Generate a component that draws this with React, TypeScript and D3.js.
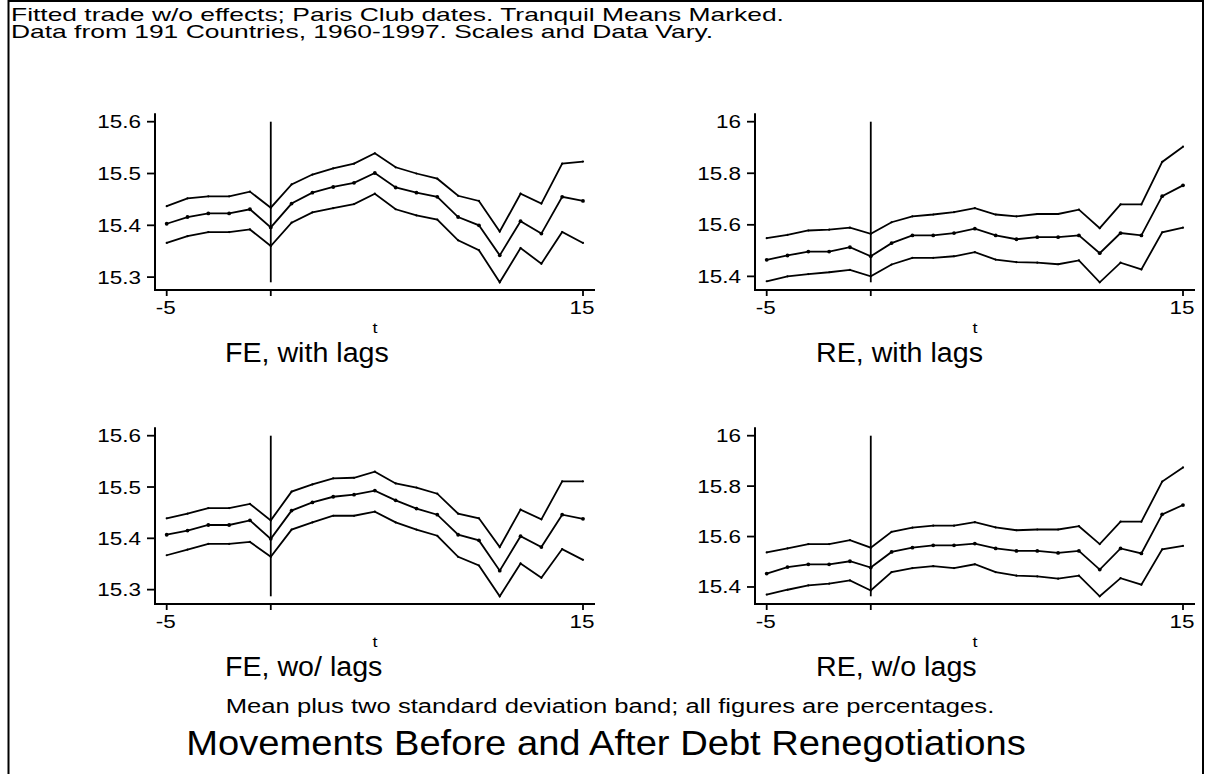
import React from "react";
import * as d3 from "d3";

// ---------- data ----------
const tValues = [-5, -4, -3, -2, -1, 0, 1, 2, 3, 4, 5, 6, 7, 8, 9, 10, 11, 12, 13, 14, 15];
const xTickValues = [-5, 0, 15];
const xTickLabels = ["-5", "", "15"];

const feLagsUpper = [15.437, 15.452, 15.456, 15.456, 15.465, 15.434, 15.479, 15.498, 15.510, 15.519, 15.539, 15.512, 15.500, 15.490, 15.457, 15.447, 15.388, 15.461, 15.442, 15.519, 15.523];
const feLagsMean = [15.403, 15.416, 15.423, 15.423, 15.431, 15.396, 15.442, 15.463, 15.474, 15.482, 15.501, 15.473, 15.463, 15.455, 15.416, 15.400, 15.342, 15.408, 15.384, 15.455, 15.447];
const feLagsLower = [15.366, 15.379, 15.387, 15.387, 15.392, 15.360, 15.405, 15.425, 15.433, 15.441, 15.461, 15.431, 15.419, 15.411, 15.371, 15.352, 15.290, 15.356, 15.326, 15.387, 15.366];

const reLagsUpper = [15.548, 15.561, 15.578, 15.581, 15.589, 15.565, 15.610, 15.633, 15.640, 15.649, 15.665, 15.640, 15.633, 15.642, 15.642, 15.659, 15.587, 15.679, 15.679, 15.844, 15.903];
const reLagsMean = [15.464, 15.481, 15.496, 15.496, 15.513, 15.478, 15.529, 15.559, 15.559, 15.568, 15.585, 15.559, 15.544, 15.552, 15.552, 15.559, 15.490, 15.568, 15.559, 15.711, 15.753];
const reLagsLower = [15.381, 15.400, 15.409, 15.416, 15.425, 15.400, 15.446, 15.472, 15.472, 15.478, 15.494, 15.465, 15.455, 15.453, 15.447, 15.462, 15.377, 15.453, 15.427, 15.571, 15.589];

const feNoLagsUpper = [15.439, 15.448, 15.459, 15.459, 15.467, 15.435, 15.491, 15.505, 15.517, 15.518, 15.530, 15.507, 15.499, 15.487, 15.448, 15.439, 15.383, 15.456, 15.437, 15.511, 15.511];
const feNoLagsMean = [15.407, 15.415, 15.426, 15.426, 15.435, 15.399, 15.454, 15.470, 15.481, 15.485, 15.493, 15.474, 15.458, 15.446, 15.407, 15.396, 15.337, 15.404, 15.383, 15.446, 15.438];
const feNoLagsLower = [15.367, 15.378, 15.389, 15.389, 15.393, 15.364, 15.417, 15.431, 15.444, 15.444, 15.452, 15.431, 15.417, 15.405, 15.364, 15.347, 15.287, 15.351, 15.323, 15.379, 15.358];

const reNoLagsUpper = [15.537, 15.553, 15.570, 15.570, 15.586, 15.556, 15.619, 15.635, 15.643, 15.643, 15.657, 15.636, 15.625, 15.628, 15.628, 15.641, 15.570, 15.659, 15.659, 15.818, 15.874];
const reNoLagsMean = [15.453, 15.479, 15.490, 15.490, 15.502, 15.477, 15.539, 15.556, 15.565, 15.565, 15.572, 15.553, 15.543, 15.543, 15.535, 15.543, 15.469, 15.553, 15.533, 15.688, 15.725];
const reNoLagsLower = [15.370, 15.389, 15.406, 15.413, 15.426, 15.386, 15.459, 15.475, 15.483, 15.475, 15.490, 15.459, 15.445, 15.442, 15.433, 15.445, 15.363, 15.435, 15.409, 15.549, 15.563];

const feTicks = [15.3, 15.4, 15.5, 15.6];
const reTicks = [15.4, 15.6, 15.8, 16];

const panelTitles = ["FE, with lags", "RE, with lags", "FE, wo/ lags", "RE, w/o lags"];
const headerLines = [
  "Fitted trade w/o effects; Paris Club dates. Tranquil Means Marked.",
  "Data from 191 Countries, 1960-1997. Scales and Data Vary.",
];
const noteText = "Mean plus two standard deviation band; all figures are percentages.";
const titleText = "Movements Before and After Debt Renegotiations";
const xAxisTitle = "t";

// ---------- layout ----------
const W = 1211;
const H = 774;
const FONT = "'Liberation Sans', Arial, Helvetica, sans-serif";

const panels = [
  { title: panelTitles[0], upper: feLagsUpper, mean: feLagsMean, lower: feLagsLower, ticks: feTicks, col: 0, row: 0 },
  { title: panelTitles[1], upper: reLagsUpper, mean: reLagsMean, lower: reLagsLower, ticks: reTicks, col: 1, row: 0 },
  { title: panelTitles[2], upper: feNoLagsUpper, mean: feNoLagsMean, lower: feNoLagsLower, ticks: feTicks, col: 0, row: 1 },
  { title: panelTitles[3], upper: reNoLagsUpper, mean: reNoLagsMean, lower: reNoLagsLower, ticks: reTicks, col: 1, row: 1 },
];

function SText(props: {
  x: number; y: number; size: number; anchor?: string; sx?: number; children: React.ReactNode;
}) {
  const { x, y, size, anchor = "start", sx = 1, children } = props;
  return (
    <text
      transform={`translate(${x},${y}) scale(${sx},1)`}
      fontSize={size}
      textAnchor={anchor}
      fontFamily={FONT}
      fill="#000"
    >
      {children}
    </text>
  );
}

function Panel({ p }: { p: (typeof panels)[number] }) {
  const axisX = p.col === 0 ? 155 : 755;
  const x0 = axisX + 11.7;
  const x1 = axisX + 428;
  const dy = p.row === 0 ? 0 : 314;
  const plotTop = 121.7 + dy;
  const plotBottom = 282.3 + dy;
  const axisY = 290 + dy;
  const axisTop = 113.3 + dy;
  const axisRight = axisX + 440;

  const yMax = p.ticks[p.ticks.length - 1];
  const yMin = d3.min([...p.lower, ...p.mean, ...p.upper]) as number;

  const x = d3.scaleLinear().domain([tValues[0], tValues[tValues.length - 1]]).range([x0, x1]);
  const y = d3.scaleLinear().domain([yMin, yMax]).range([plotBottom, plotTop]);

  const line = d3
    .line<number>()
    .x((_, i) => x(tValues[i]))
    .y((d) => y(d));

  const series = [
    { vals: p.upper, r: 1.1 },
    { vals: p.mean, r: 1.9 },
    { vals: p.lower, r: 1.1 },
  ];

  const titleX = p.col === 0 ? 225 : 816;

  return (
    <g>
      {/* axes */}
      <line x1={axisX} y1={axisTop} x2={axisX} y2={axisY + 1} stroke="#000" strokeWidth={2} />
      <line x1={axisX - 1} y1={axisY} x2={axisRight} y2={axisY} stroke="#000" strokeWidth={2} />
      {p.ticks.map((t) => (
        <g key={t}>
          <line x1={axisX - 8} x2={axisX} y1={y(t)} y2={y(t)} stroke="#000" strokeWidth={1.8} />
          <SText x={axisX - 14} y={y(t) + 6.5} size={18} sx={1.25} anchor="end">
            {String(t)}
          </SText>
        </g>
      ))}
      {xTickValues.map((t, i) => (
        <g key={t}>
          <line x1={x(t)} x2={x(t)} y1={axisY} y2={axisY + 6} stroke="#000" strokeWidth={1.8} />
          {xTickLabels[i] !== "" && (
            <SText x={x(t) - 1} y={axisY + 24} size={18} sx={1.25} anchor="middle">
              {xTickLabels[i]}
            </SText>
          )}
        </g>
      ))}
      <SText x={(axisX + axisRight) / 2} y={axisY + 43} size={15} sx={1.2} anchor="middle">
        {xAxisTitle}
      </SText>
      <SText x={titleX} y={361.7 + dy} size={27} sx={1.06}>
        {p.title}
      </SText>

      {/* event line at t = 0 */}
      <line x1={x(0)} x2={x(0)} y1={y(yMax)} y2={y(yMin)} stroke="#000" strokeWidth={1.8} />

      {/* series */}
      {series.map((s, si) => (
        <g key={si}>
          <path d={line(s.vals) || ""} fill="none" stroke="#000" strokeWidth={1.8} strokeLinejoin="miter" />
          {s.vals.map((v, i) => (
            <circle key={i} cx={x(tValues[i])} cy={y(v)} r={s.r} fill="#000" />
          ))}
        </g>
      ))}
    </g>
  );
}

export default function App() {
  return (
    <svg
      width={W}
      height={H}
      style={{ position: "absolute", left: 0, top: 0, background: "#fff" }}
      xmlns="http://www.w3.org/2000/svg"
    >
      <rect x={0} y={0} width={W} height={H} fill="#fff" />
      <rect x={8.5} y={1} width={1194.5} height={820} fill="none" stroke="#000" strokeWidth={2} />
      <SText x={11} y={21} size={19} sx={1.39}>
        {headerLines[0]}
      </SText>
      <SText x={11} y={38} size={19} sx={1.39}>
        {headerLines[1]}
      </SText>
      {panels.map((p, i) => (
        <Panel key={i} p={p} />
      ))}
      <SText x={610} y={713} size={21} sx={1.22} anchor="middle">
        {noteText}
      </SText>
      <SText x={606} y={755} size={35} sx={1.09} anchor="middle">
        {titleText}
      </SText>
    </svg>
  );
}
